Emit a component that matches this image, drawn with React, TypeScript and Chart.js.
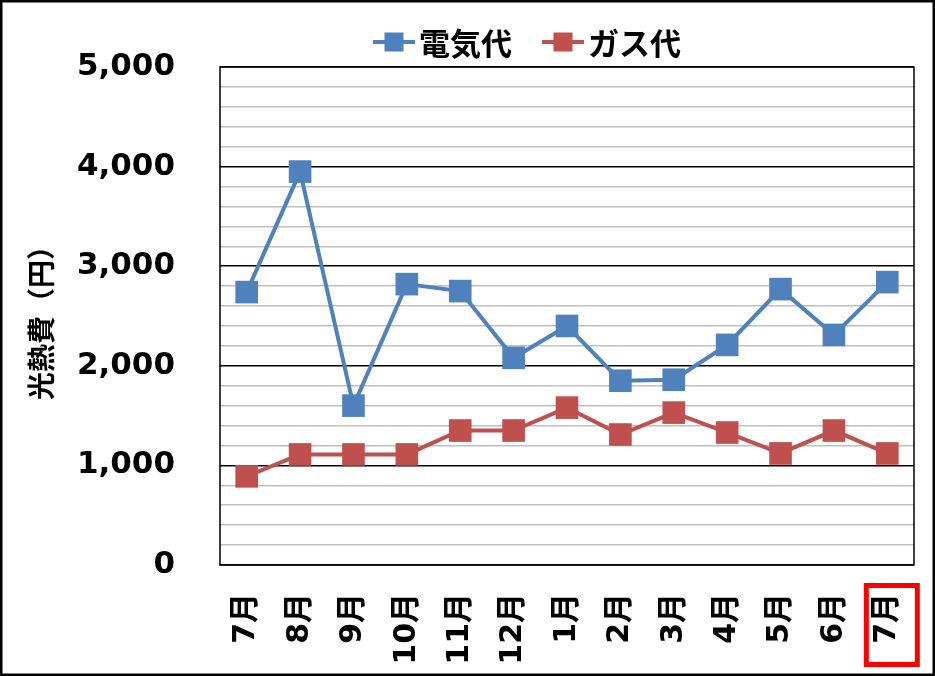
import { useEffect, useRef } from 'react';
import { Chart, registerables } from 'chart.js';

Chart.register(...registerables);

// data
const months = ['7月', '8月', '9月', '10月', '11月', '12月', '1月', '2月', '3月', '4月', '5月', '6月', '7月'];
const electricity = [2740, 3950, 1600, 2820, 2750, 2080, 2400, 1850, 1860, 2210, 2770, 2310, 2840];
const gas = [890, 1110, 1110, 1110, 1350, 1350, 1580, 1310, 1530, 1330, 1120, 1350, 1120];
const seriesNames = ['電気代', 'ガス代'];
const seriesColors = ['#4F81BD', '#C0504D'];
const yMin = 0;
const yMax = 5000;
const yMinorStep = 200;
const yMajorStep = 1000;
const highlightIndex = 12;

const W = 935;
const H = 676;
const NUM_FONT = '"DejaVu Sans", "Noto Sans CJK JP", sans-serif';
const CJK_FONT = '"Noto Sans CJK JP", "DejaVu Sans", sans-serif';

const legendPlugin = {
  id: 'topLegend',
  afterDraw(chart: any) {
    const { ctx } = chart;
    ctx.save();
    ctx.font = `bold 31px ${CJK_FONT}`;
    ctx.textBaseline = 'middle';
    let x = 373;
    const y = 42;
    chart.data.datasets.forEach((ds: any) => {
      ctx.strokeStyle = ds.borderColor;
      ctx.lineWidth = 4;
      ctx.beginPath();
      ctx.moveTo(x, y);
      ctx.lineTo(x + 42, y);
      ctx.stroke();
      ctx.fillStyle = ds.borderColor;
      ctx.fillRect(x + 21 - 9.5, y - 9.5, 19, 19);
      ctx.fillStyle = '#000';
      ctx.fillText(ds.label, x + 46, y + 1);
      x += 46 + ctx.measureText(ds.label).width + 30;
    });
    ctx.restore();
  },
};

const framePlugin = {
  id: 'frames',
  beforeDatasetsDraw(chart: any) {
    const { ctx, chartArea } = chart;
    ctx.save();
    ctx.strokeStyle = '#000';
    ctx.lineWidth = 1.5;
    ctx.strokeRect(chartArea.left, chartArea.top, chartArea.right - chartArea.left, chartArea.bottom - chartArea.top);
    ctx.restore();
  },
  afterDraw(chart: any) {
    const { ctx } = chart;
    ctx.save();
    // outer border of the picture
    ctx.strokeStyle = '#000';
    ctx.lineWidth = 2.5;
    ctx.strokeRect(1.25, 1.25, chart.width - 2.5, chart.height - 2.5);
    // red box round the highlighted month label
    const cx = chart.scales.x.getPixelForValue(highlightIndex);
    ctx.strokeStyle = '#FF0000';
    ctx.lineWidth = 5;
    ctx.strokeRect(cx - 21, 585.5, 51, 79);
    ctx.restore();
  },
};

export default function App() {
  const canvasRef = useRef<HTMLCanvasElement>(null);
  const chartRef = useRef<any>(null);

  useEffect(() => {
    document.body.style.margin = '0';
    if (!canvasRef.current) return;
    if (chartRef.current) chartRef.current.destroy();

    chartRef.current = new Chart(canvasRef.current, {
      type: 'line',
      data: {
        labels: months,
        datasets: [
          {
            label: seriesNames[0],
            data: electricity,
            borderColor: seriesColors[0],
            backgroundColor: seriesColors[0],
            borderWidth: 4,
            pointStyle: 'rect',
            pointRadius: 16,
            pointBorderWidth: 0,
            tension: 0,
          },
          {
            label: seriesNames[1],
            data: gas,
            borderColor: seriesColors[1],
            backgroundColor: seriesColors[1],
            borderWidth: 4,
            pointStyle: 'rect',
            pointRadius: 16,
            pointBorderWidth: 0,
            tension: 0,
          },
        ],
      },
      plugins: [legendPlugin, framePlugin],
      options: {
        responsive: false,
        animation: false,
        devicePixelRatio: 1,
        layout: {
          padding: { top: 67, right: 21, left: 0, bottom: 0 },
        },
        plugins: {
          legend: { display: false },
          tooltip: { enabled: false },
        },
        scales: {
          x: {
            offset: true,
            grid: { display: false },
            border: { display: false },
            ticks: {
              autoSkip: false,
              maxRotation: 90,
              minRotation: 90,
              padding: 20,
              color: '#000',
              font: { family: NUM_FONT, size: 30, weight: 'bold' },
            },
            afterFit(scale: any) {
              scale.height = 111;
              scale.paddingLeft = 0;
              scale.paddingRight = 0;
            },
          },
          y: {
            min: yMin,
            max: yMax,
            border: { display: false },
            grid: {
              drawTicks: false,
              color: (ctx: any) => (ctx.tick && ctx.tick.value % yMajorStep === 0 ? '#000' : '#BFBFBF'),
              lineWidth: 1.5,
            },
            ticks: {
              autoSkip: false,
              stepSize: yMinorStep,
              padding: 45,
              color: '#000',
              font: { family: NUM_FONT, size: 31, weight: 'bold' },
              callback: (v: any) => (Number(v) % yMajorStep === 0 ? Number(v).toLocaleString('en-US') : ''),
            },
            title: {
              display: true,
              text: '光熱費（円）',
              color: '#000',
              padding: { top: 25, bottom: 0 },
              font: { family: CJK_FONT, size: 28, weight: 'bold' },
            },
            afterFit(scale: any) {
              scale.width = 220;
              scale.paddingTop = 0;
              scale.paddingBottom = 0;
            },
          },
        },
      },
    });

    return () => {
      if (chartRef.current) {
        chartRef.current.destroy();
        chartRef.current = null;
      }
    };
  }, []);

  return (
    <div style={{ width: W, height: H, background: '#fff' }}>
      <canvas ref={canvasRef} width={W} height={H} style={{ display: 'block' }}></canvas>
    </div>
  );
}
